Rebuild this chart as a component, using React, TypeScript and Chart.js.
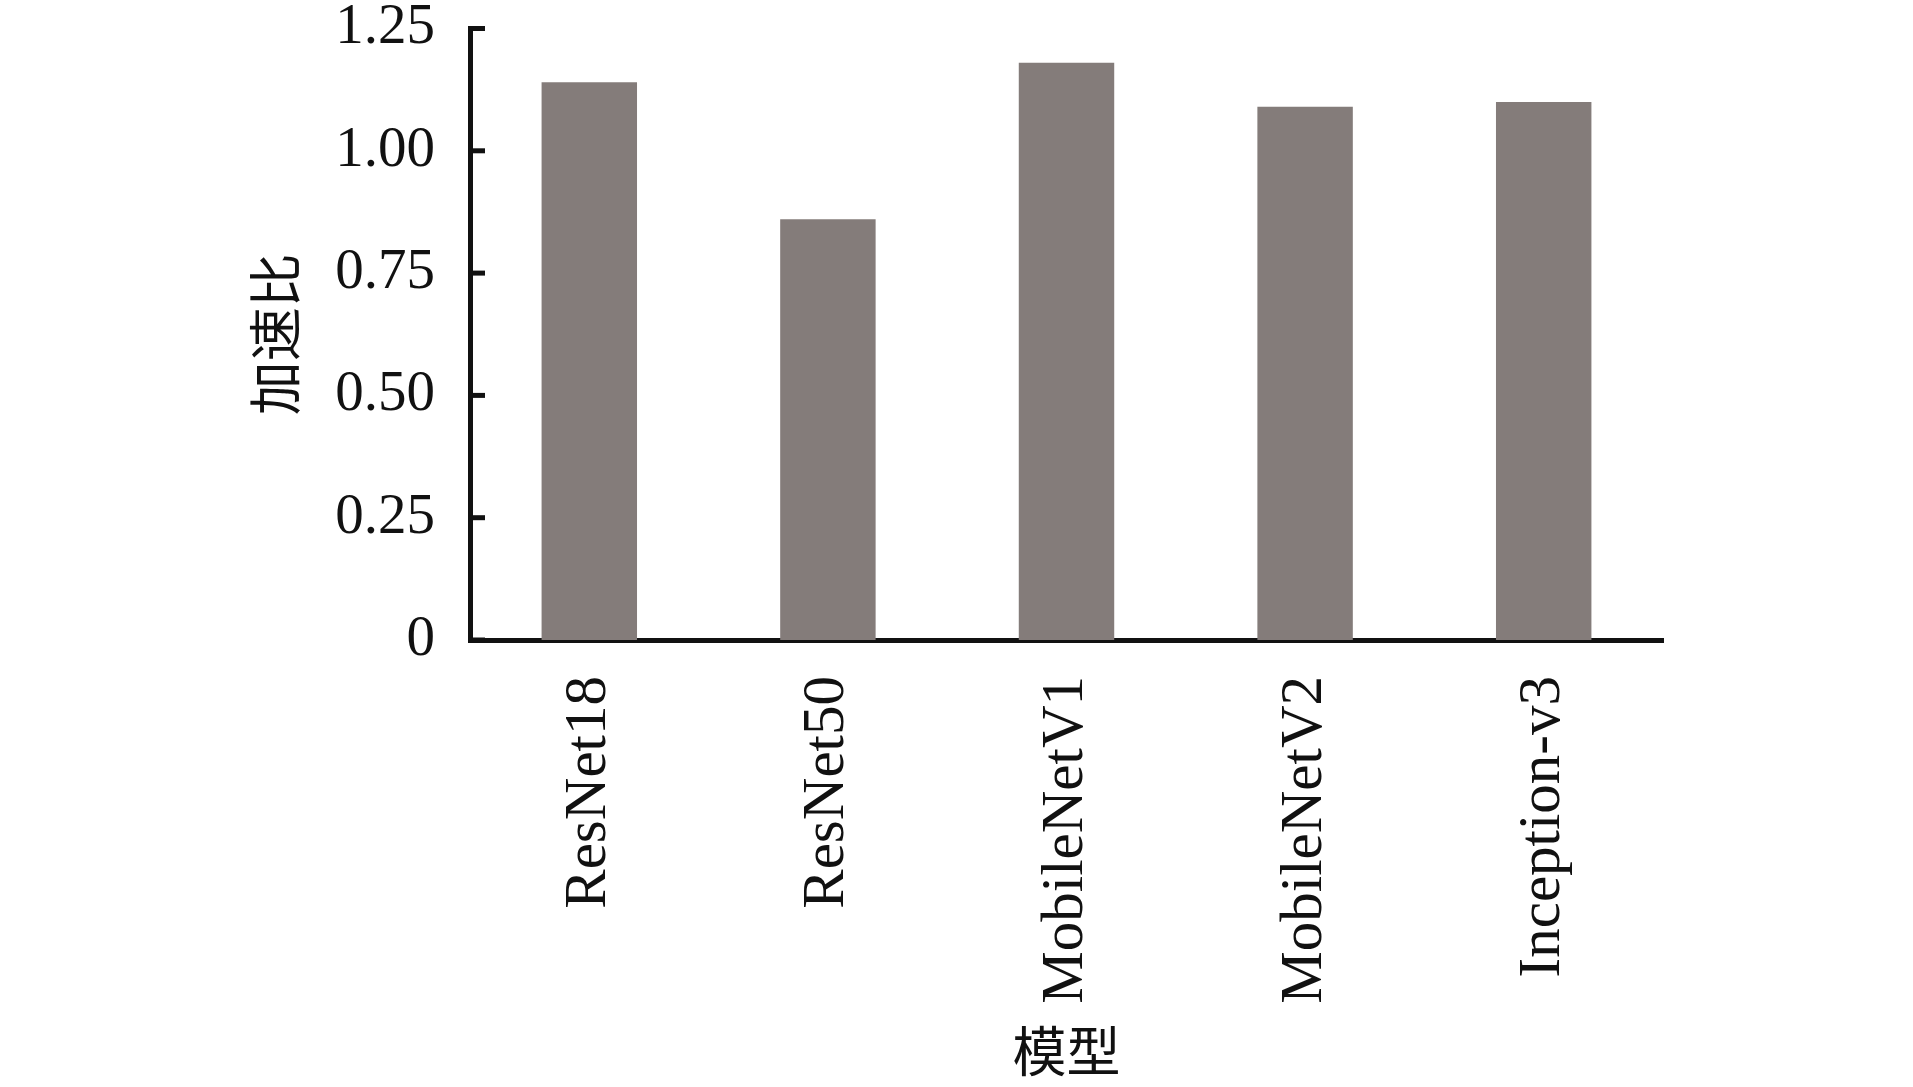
import React, { useEffect, useRef } from "react";
import { Chart, registerables } from "chart.js";

Chart.register(...registerables);

const categories = ["ResNet18", "ResNet50", "MobileNetV1", "MobileNetV2", "Inception-v3"];
const speedups = [1.14, 0.86, 1.18, 1.09, 1.10];
const yTicks = [0, 0.25, 0.5, 0.75, 1.0, 1.25];
const yTitle = "加速比";
const xTitle = "模型";

const LATIN = "'Liberation Serif', 'DejaVu Serif', serif";
const CJK = "'Noto Sans CJK SC', 'Liberation Serif', sans-serif";

const innerTicks = {
  id: "innerTicks",
  afterDraw(chart: any) {
    const y = chart.scales.y;
    const ctx = chart.ctx;
    const left = chart.chartArea.left;
    ctx.save();
    ctx.strokeStyle = "#111";
    ctx.lineWidth = 5;
    for (const v of yTicks) {
      const py = y.getPixelForValue(v);
      ctx.beginPath();
      ctx.moveTo(left, py);
      ctx.lineTo(left + 15, py);
      ctx.stroke();
    }
    ctx.restore();
  },
};

export default function App() {
  const ref = useRef<HTMLCanvasElement | null>(null);
  useEffect(() => {
    if (!ref.current) return;
    const chart = new Chart(ref.current, {
      type: "bar",
      data: {
        labels: categories,
        datasets: [
          {
            data: speedups,
            backgroundColor: "#847c7a",
            borderWidth: 0,
            barPercentage: 0.4,
            categoryPercentage: 1,
          },
        ],
      },
      options: {
        animation: false,
        responsive: true,
        maintainAspectRatio: false,
        layout: { padding: { top: 28, right: 250, bottom: 0, left: 0 } },
        plugins: { legend: { display: false }, tooltip: { enabled: false } },
        scales: {
          x: {
            grid: { display: false, drawTicks: false },
            border: { display: true, color: "#111", width: 5 },
            ticks: {
              color: "#111",
              font: { family: LATIN, size: 59 },
              maxRotation: 90,
              minRotation: 90,
              padding: 36,
              autoSkip: false,
            },
            title: {
              display: true,
              text: xTitle,
              color: "#111",
              font: { family: CJK, size: 54, lineHeight: 1.2 },
              padding: { top: 0, bottom: 3 },
            },
            afterFit(scale: any) {
              scale.height = 447;
            },
          },
          y: {
            min: 0,
            max: 1.25,
            grid: { display: false, drawTicks: true, tickLength: 35 },
            border: { display: true, color: "#111", width: 5 },
            afterBuildTicks(scale: any) {
              scale.ticks = yTicks.map((v) => ({ value: v }));
            },
            ticks: {
              color: "#111",
              font: { family: LATIN, size: 57, lineHeight: 1.0 },
              padding: 0,
              callback: (v: any) => (Number(v) === 0 ? "0" : Number(v).toFixed(2)),
            },
            title: {
              display: true,
              text: yTitle,
              color: "#111",
              font: { family: CJK, size: 54, lineHeight: 1.2 },
              padding: { top: 243, bottom: 0 },
            },
            afterFit(scale: any) {
              scale.width = 470;
            },
          },
        },
      },
      plugins: [innerTicks],
    });
    return () => chart.destroy();
  }, []);
  return (
    <div style={{ position: "fixed", left: 0, top: 0, width: 1913, height: 1087, background: "#fff" }}>
      <canvas ref={ref} />
    </div>
  );
}
